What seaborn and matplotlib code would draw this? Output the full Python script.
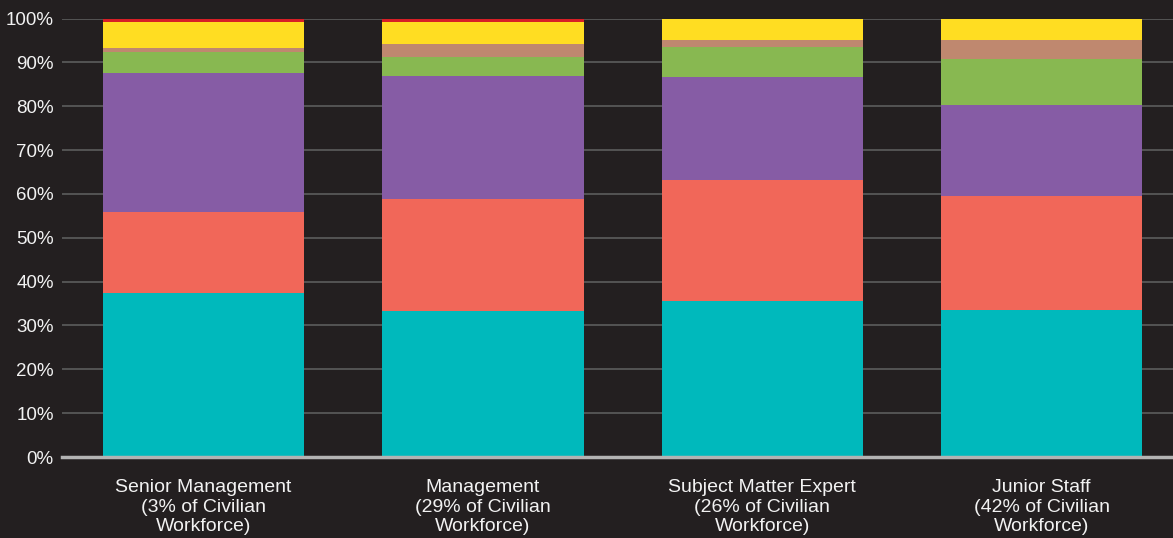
import numpy as np
import pandas as pd
import matplotlib
matplotlib.use("Agg")
import matplotlib.pyplot as plt
import seaborn as sns

# Datos (porcentaje del total por grupo)
categorias = [
    "Senior Management\n(3% of Civilian\nWorkforce)",
    "Management\n(29% of Civilian\nWorkforce)",
    "Subject Matter Expert\n(26% of Civilian\nWorkforce)",
    "Junior Staff\n(42% of Civilian\nWorkforce)",
]
segmentos = ["Group 1", "Group 2", "Group 3", "Group 4", "Group 5", "Group 6", "Group 7"]
grupo1 = [37.3, 33.3, 35.5, 33.5]
grupo2 = [18.5, 25.5, 27.6, 26.0]
grupo3 = [31.7, 28.0, 23.5, 20.7]
grupo4 = [4.8, 4.5, 6.8, 10.5]
grupo5 = [0.9, 2.8, 1.8, 4.5]
grupo6 = [5.9, 5.0, 4.8, 4.8]
grupo7 = [0.9, 0.9, 0.0, 0.0]
yticks = [0, 10, 20, 30, 40, 50, 60, 70, 80, 90, 100]

colores = ["#00b9bc", "#f16759", "#865ca5", "#88b851", "#bf886f", "#ffdd22", "#d71f26"]
fondo = "#231f20"
texto = "#f2f2f2"

sns.set_theme(style="dark")
plt.rcParams["font.family"] = ["Liberation Sans", "DejaVu Sans"]

df = pd.DataFrame(
    [grupo1, grupo2, grupo3, grupo4, grupo5, grupo6, grupo7],
    index=segmentos, columns=categorias,
)

fig = plt.figure(figsize=(11.73, 5.38), dpi=100, facecolor=fondo)
ax = fig.add_axes([62 / 1173, 1 - 457 / 538, 1 - 62 / 1173, (457 - 18.5) / 538])
ax.set_facecolor(fondo)

base = np.zeros(len(categorias))
for seg, color in zip(segmentos, colores):
    vals = df.loc[seg].values
    sns.barplot(x=categorias, y=vals, bottom=base, color=color, width=0.72,
                saturation=1, linewidth=0, ax=ax, zorder=2)
    base = base + vals

ax.set_ylim(0, 100)
ax.set_xlim(-0.507, 3.47)
ax.set_yticks(yticks)
ax.set_yticklabels([f"{v}%" for v in yticks])
ax.yaxis.grid(True, color="#545454", linewidth=1.4)
ax.xaxis.grid(False)
ax.set_axisbelow(True)
for s in ["top", "right", "left"]:
    ax.spines[s].set_visible(False)
ax.spines["bottom"].set_color("#b3b3b3")
ax.spines["bottom"].set_linewidth(2.5)
ax.spines["bottom"].set_zorder(3)

ax.tick_params(axis="y", length=0, pad=6, labelsize=13.5, labelcolor=texto)
ax.tick_params(axis="x", length=0, pad=16, labelsize=14, labelcolor=texto)
for lbl in ax.get_xticklabels():
    lbl.set_linespacing(1.2)
ax.set_xlabel("")
ax.set_ylabel("")

fig.savefig("out.png", dpi=100, facecolor=fondo)
